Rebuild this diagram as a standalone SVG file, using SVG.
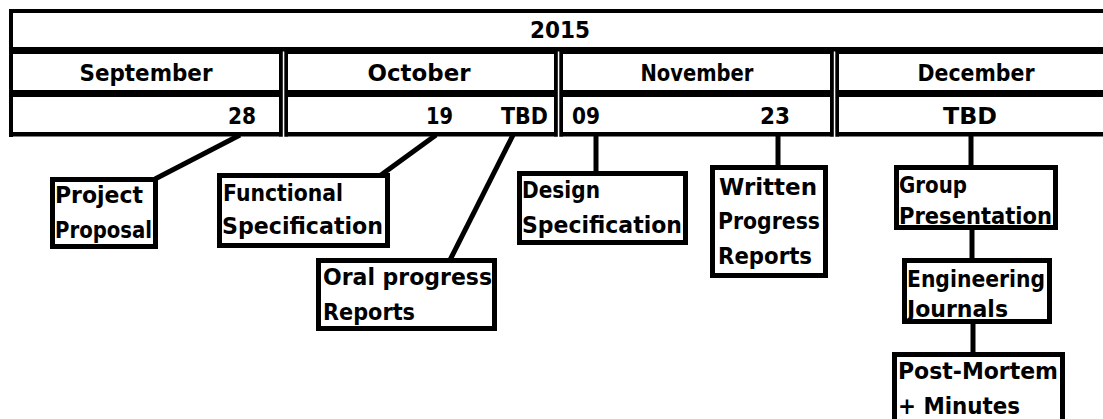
<svg xmlns="http://www.w3.org/2000/svg" width="1103" height="419" viewBox="0 0 1103 419">
<style>
.t { font-family: "DejaVu Sans", "Liberation Sans", sans-serif; font-weight: bold; font-size: 23.5px; fill: #000; }
.m { text-anchor: middle; }
.e { text-anchor: end; }
.bar { fill: #000; }
.gap { fill: #fff; }
.box { fill: #fff; stroke: #000; stroke-width: 5; }
.conn { stroke: #000; stroke-width: 5; fill: none; }
</style>
<rect x="0" y="0" width="1103" height="419" fill="#fff"/>
<g id="timeline-table">
  <rect class="bar" x="9" y="9" width="1100" height="4"/>
  <rect class="bar" x="9" y="9" width="4" height="128"/>
  <rect class="bar" x="9" y="47" width="1100" height="7"/>
  <rect class="bar" x="9" y="90" width="1100" height="7"/>
  <rect class="bar" x="9" y="132" width="1100" height="4.5"/>
  <rect class="bar" x="279" y="47" width="9" height="89.5"/>
  <rect class="bar" x="554" y="47" width="9" height="89.5"/>
  <rect class="bar" x="830" y="47" width="9" height="89.5"/>
  <rect class="gap" x="282.8" y="51.5" width="1.5" height="85.5"/>
  <rect class="gap" x="557.8" y="51.5" width="1.5" height="85.5"/>
  <rect class="gap" x="833.8" y="51.5" width="1.5" height="85.5"/>
</g>
<g id="year-2015"><text class="t m" x="560" y="38" textLength="60" lengthAdjust="spacingAndGlyphs">2015</text></g>
<g id="month-september">
  <text class="t m" x="146" y="81" textLength="133" lengthAdjust="spacingAndGlyphs">September</text>
  <text class="t e" x="256" y="124" textLength="28" lengthAdjust="spacingAndGlyphs">28</text>
</g>
<g id="month-october">
  <text class="t m" x="419" y="81" textLength="103" lengthAdjust="spacingAndGlyphs">October</text>
  <text class="t e" x="453" y="124" textLength="27" lengthAdjust="spacingAndGlyphs">19</text>
  <text class="t e" x="548" y="124" textLength="47" lengthAdjust="spacingAndGlyphs">TBD</text>
</g>
<g id="month-november">
  <text class="t m" x="697" y="81" textLength="113" lengthAdjust="spacingAndGlyphs">November</text>
  <text class="t" x="572" y="124" textLength="28" lengthAdjust="spacingAndGlyphs">09</text>
  <text class="t e" x="790" y="124" textLength="30" lengthAdjust="spacingAndGlyphs">23</text>
</g>
<g id="month-december">
  <text class="t m" x="976" y="81" textLength="117" lengthAdjust="spacingAndGlyphs">December</text>
  <text class="t m" x="970" y="124" textLength="54" lengthAdjust="spacingAndGlyphs">TBD</text>
</g>
<g id="connectors">
  <path class="conn" d="M240 135 L155 179"/>
  <path class="conn" d="M436 135 L381 175"/>
  <path class="conn" d="M513 135 L450 260"/>
  <path class="conn" d="M596 135 V174"/>
  <path class="conn" d="M778 135 V167"/>
  <path class="conn" d="M971 135 V167"/>
  <path class="conn" d="M972 228 V260"/>
  <path class="conn" d="M973 322 V355"/>
</g>
<g id="node-project-proposal">
  <rect class="box" x="52.5" y="179.5" width="103" height="67"/>
  <text class="t" x="55" y="203" textLength="88" lengthAdjust="spacingAndGlyphs">Project</text>
  <text class="t" x="55" y="238" textLength="97" lengthAdjust="spacingAndGlyphs">Proposal</text>
</g>
<g id="node-functional-specification">
  <rect class="box" x="219.5" y="175.5" width="168" height="70"/>
  <text class="t" x="223" y="201" textLength="120" lengthAdjust="spacingAndGlyphs">Functional</text>
  <text class="t" x="222" y="234" textLength="161" lengthAdjust="spacingAndGlyphs">Specification</text>
</g>
<g id="node-oral-progress-reports">
  <rect class="box" x="318.5" y="260.5" width="176" height="68"/>
  <text class="t" x="323" y="285" textLength="169" lengthAdjust="spacingAndGlyphs">Oral progress</text>
  <text class="t" x="323" y="320" textLength="92" lengthAdjust="spacingAndGlyphs">Reports</text>
</g>
<g id="node-design-specification">
  <rect class="box" x="519.5" y="173.5" width="166" height="69"/>
  <text class="t" x="522" y="198" textLength="78" lengthAdjust="spacingAndGlyphs">Design</text>
  <text class="t" x="522" y="233" textLength="160" lengthAdjust="spacingAndGlyphs">Specification</text>
</g>
<g id="node-written-progress-reports">
  <rect class="box" x="712.5" y="167.5" width="113" height="108"/>
  <text class="t" x="719" y="195" textLength="98" lengthAdjust="spacingAndGlyphs">Written</text>
  <text class="t" x="718" y="229" textLength="102" lengthAdjust="spacingAndGlyphs">Progress</text>
  <text class="t" x="718" y="264" textLength="94" lengthAdjust="spacingAndGlyphs">Reports</text>
</g>
<g id="node-group-presentation">
  <rect class="box" x="896.5" y="167.5" width="159" height="60"/>
  <text class="t" x="899" y="193" textLength="68" lengthAdjust="spacingAndGlyphs">Group</text>
  <text class="t" x="899" y="224" textLength="153" lengthAdjust="spacingAndGlyphs">Presentation</text>
</g>
<g id="node-engineering-journals">
  <rect class="box" x="904.5" y="260.5" width="145" height="61"/>
  <text class="t" x="907" y="287" textLength="138" lengthAdjust="spacingAndGlyphs">Engineering</text>
  <text class="t" x="907" y="317" textLength="101" lengthAdjust="spacingAndGlyphs">Journals</text>
</g>
<g id="node-post-mortem-minutes">
  <rect class="box" x="894.5" y="354.5" width="168" height="90"/>
  <text class="t" x="898" y="379" textLength="160" lengthAdjust="spacingAndGlyphs">Post-Mortem</text>
  <text class="t" x="898" y="414" textLength="122" lengthAdjust="spacingAndGlyphs">+ Minutes</text>
</g>
</svg>
